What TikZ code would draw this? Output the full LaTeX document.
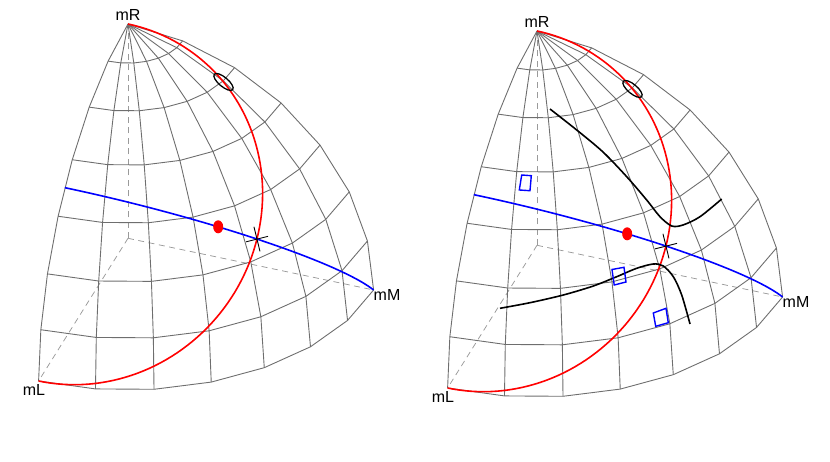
\documentclass[tikz,border=0pt]{standalone}
\usepackage{fontspec}
\setmainfont{Liberation Sans}
\definecolor{gridgray}{HTML}{6E6E6E}
\definecolor{axisgray}{HTML}{9A9A9A}
\tikzset{
 gridline/.style={draw=gridgray, line width=0.9pt, line join=round},
 axisline/.style={draw=axisgray, line width=0.75pt, dash pattern=on 6pt off 4.5pt},
 redcurve/.style={draw=red, line width=1.6pt},
 bluecurve/.style={draw=blue, line width=1.6pt},
 blackcurve/.style={draw=black, line width=1.6pt},
 marker/.style={draw=black, line width=0.9pt},
 ringmark/.style={draw=black, line width=1.3pt},
 lab/.style={font=\fontsize{16}{19}\selectfont, inner sep=0pt},
 bluebox/.style={draw=blue, line width=1.4pt, line join=miter}
}
\newcommand\octantpanel[2]{%
\begin{scope}[shift={#2}]
 \begin{scope}[x={(-89.4pt,-142.7pt)}, y={(245.6pt,-51.7pt)}, z={(0pt,214.3pt)}]
  \coordinate (#1O) at (0,0,0);
  \coordinate (#1R) at (0,0,1);
  \coordinate (#1L) at (1,0,0);
  \coordinate (#1M) at (0,1,0);
  \draw[axisline] (#1O) -- (#1R);
  \draw[axisline] (#1O) -- (#1L);
  \draw[axisline] (#1O) -- (#1M);
  \foreach \j in {0,...,7}
   \draw[gridline] plot[samples at={0,12.857143,25.714286,38.571429,51.428571,64.285714,77.142857,90}]
     ({sin(\x)*cos(\j*90/7)},{sin(\x)*sin(\j*90/7)},{cos(\x)});
  \foreach \k in {1,...,7}
   \draw[gridline] plot[samples at={0,12.857143,25.714286,38.571429,51.428571,64.285714,77.142857,90}]
     ({sin(\k*90/7)*cos(\x)},{sin(\k*90/7)*sin(\x)},{cos(\k*90/7)});
  \draw[redcurve] plot[domain=0:180, samples=91] ({0.5+0.5*cos(\x)},{sin(\x)/sqrt(2)},{0.5-0.5*cos(\x)});
  \draw[bluecurve] plot[domain=0:90, samples=61] ({cos(\x)/sqrt(2)},{sin(\x)},{cos(\x)/sqrt(2)});
  \coordinate (#1dot) at (0.57735,0.57735,0.57735);
  \coordinate (#1ell) at (0.1007,0.4255,0.8993);
  \coordinate (#1X) at (0.5,0.70711,0.5);
 \end{scope}
 \fill[red] (#1dot) ellipse [x radius=5pt, y radius=6.5pt];
 \draw[ringmark, rotate around={-40:(#1ell)}] (#1ell) ellipse [x radius=12pt, y radius=4.6pt];
 \draw[marker] (#1X) ++(-3pt,12.3pt) -- ++(6pt,-24.6pt);
 \draw[marker] (#1X) ++(-11pt,-2.8pt) -- ++(22pt,5.5pt);
 \node[lab, anchor=base] (#1mR) at (0pt,217.6pt) {mR};
 \node[lab, anchor=base] (#1mL) at (-94pt,-156.7pt) {mL};
 \node[lab, anchor=base west] (#1mM) at (245.5pt,-62.7pt) {mM};
\end{scope}}
\begin{document}
\begin{tikzpicture}
\useasboundingbox (0pt,0pt) rectangle (830pt,-462pt);
\octantpanel{a}{(128pt,-238.3pt)}
\octantpanel{b}{(537pt,-245.3pt)}
% extra curves on the right panel
\draw[blackcurve] plot[smooth] coordinates {(550pt,-109pt) (576.7pt,-130pt) (603pt,-152pt) (626.7pt,-176.7pt) (646.7pt,-200pt) (660pt,-216.7pt) (671.7pt,-226pt) (683pt,-225pt) (700pt,-216.7pt) (721.7pt,-199pt)};
\draw[blackcurve] plot[smooth] coordinates {(500pt,-308.3pt) (530pt,-302.7pt) (563.3pt,-295pt) (593.3pt,-286pt) (616.7pt,-276.7pt) (636.7pt,-268.3pt) (653.3pt,-264pt) (663.3pt,-266pt) (673.3pt,-276.7pt) (681.7pt,-295pt) (690pt,-324pt)};
\draw[bluebox] (521.7pt,-175pt) -- (531.3pt,-175.7pt) -- (530pt,-190.7pt) -- (519.3pt,-190pt) -- cycle;
\draw[bluebox] (612pt,-269.5pt) -- (624pt,-267.3pt) -- (626pt,-282pt) -- (614.2pt,-285pt) -- cycle;
\draw[bluebox] (653.3pt,-313pt) -- (666pt,-308.3pt) -- (668.3pt,-322.7pt) -- (655.7pt,-326.3pt) -- cycle;
\end{tikzpicture}
\end{document}
